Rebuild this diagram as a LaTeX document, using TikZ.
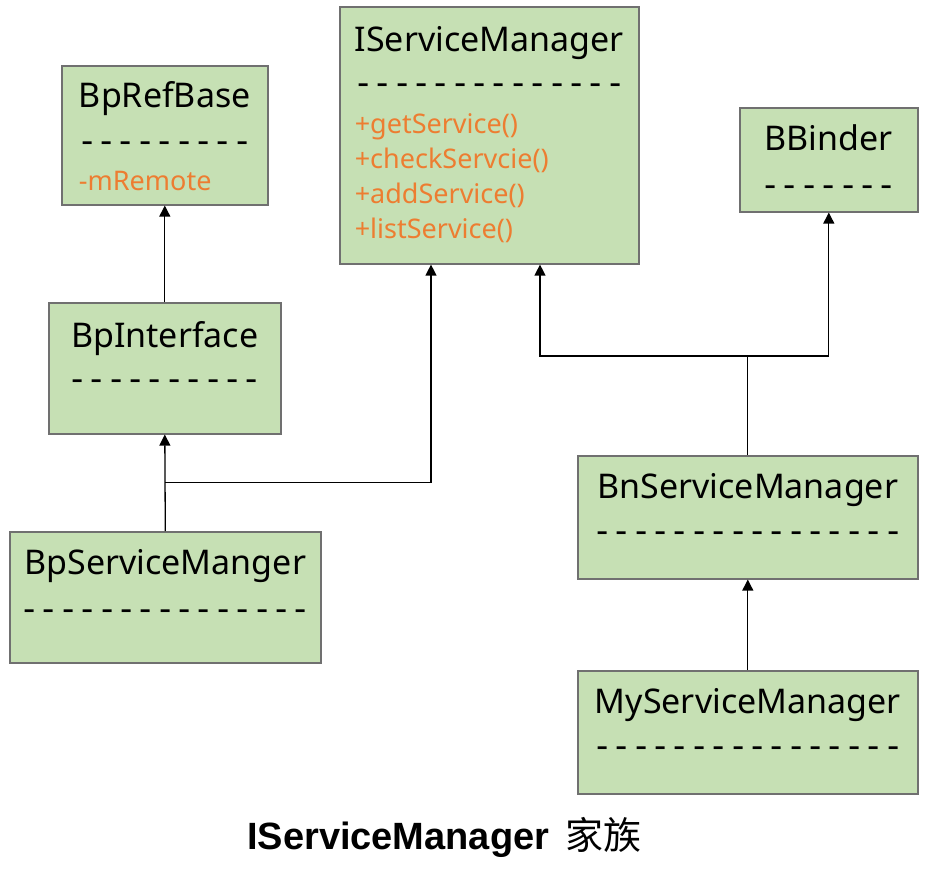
\documentclass[tikz,border=0pt]{standalone}
\usepackage{fontspec}
\setmainfont{Noto Sans}
\newfontfamily\capfont{Liberation Sans}
\newfontfamily\cjkfont{Noto Sans CJK SC}
\newfontfamily\dashfont{DejaVu Sans}
\usepackage{tikz}
\usetikzlibrary{calc, positioning, arrows.meta}
\definecolor{boxFill}{RGB}{198, 224, 180}
\definecolor{boxLine}{RGB}{112, 112, 112}
\definecolor{member}{RGB}{237, 125, 49}

% a row of n hyphens
\newcommand{\dashrow}[1]{-\foreach \d in {2,...,#1}{\hspace{7.1pt}-}}

\tikzset{
  classbox/.style={draw=boxLine, line width=1.6pt, fill=boxFill, anchor=north west, inner sep=0pt},
  classname/.style={anchor=base, inner sep=0pt, font=\fontsize{34}{40}\selectfont},
  dashline/.style={anchor=base, inner sep=0pt, font=\dashfont\fontsize{34}{40}\selectfont},
  members/.style={anchor=base west, inner sep=0pt, align=left, text=member, font=\fontsize{27}{35}\selectfont},
  inherit/.style={line width=1.3pt, -{Triangle[length=11pt, width=11pt]}},
  joint/.style={line width=1.3pt},
}

\begin{document}
\begin{tikzpicture}[x=1pt, y=-1pt]
  \useasboundingbox (0,0) rectangle (926,880);

  % --- BpRefBase ---
  \node[classbox, minimum width=206pt, minimum height=139pt] (rb) at (61,65) {};
  \node[classname] (rbT) at ([yshift=-43pt]rb.north) {BpRefBase};
  \node[dashline] (rbD) at ([yshift=-45pt]rbT.base) {\dashrow{9}};
  \node[members] (rbM) at ([yshift=-82pt]rbT.base west) {-mRemote};

  % --- IServiceManager ---
  \node[classbox, minimum width=299pt, minimum height=257pt] (ism) at (339,6) {};
  \node[classname] (ismT) at ([yshift=-46pt]ism.north) {IServiceManager};
  \node[dashline] (ismD) at ([yshift=-43pt]ismT.base) {\dashrow{14}};
  \node[members] (ismM) at ([yshift=-186pt]ismT.base west)
    {+getService()\\+checkServcie()\\+addService()\\+listService()};

  % --- BBinder ---
  \node[classbox, minimum width=178pt, minimum height=104pt] (bb) at (739,107) {};
  \node[classname] (bbT) at ([yshift=-43pt]bb.north) {BBinder};
  \node[dashline] (bbD) at ([yshift=-46pt]bbT.base) {\dashrow{7}};

  % --- BpInterface ---
  \node[classbox, minimum width=232pt, minimum height=131pt] (bpi) at (48,302) {};
  \node[classname] (bpiT) at ([yshift=-45pt]bpi.north) {BpInterface};
  \node[dashline] (bpiD) at ([yshift=-43pt]bpiT.base) {\dashrow{10}};

  % --- BnServiceManager ---
  \node[classbox, minimum width=340pt, minimum height=123pt] (bns) at (577,455) {};
  \node[classname] (bnsT) at ([yshift=-43pt]bns.north) {BnServiceManager};
  \node[dashline] (bnsD) at ([yshift=-44pt]bnsT.base) {\dashrow{16}};

  % --- BpServiceManger ---
  \node[classbox, minimum width=311pt, minimum height=131pt] (bps) at (9,531) {};
  \node[classname] (bpsT) at ([yshift=-43pt]bps.north) {BpServiceManger};
  \node[dashline] (bpsD) at ([yshift=-46pt]bpsT.base) {\dashrow{15}};

  % --- MyServiceManager ---
  \node[classbox, minimum width=340pt, minimum height=123pt] (msm) at (577,670) {};
  \node[classname] (msmT) at ([yshift=-43pt]msm.north) {MyServiceManager};
  \node[dashline] (msmD) at ([yshift=-44pt]msmT.base) {\dashrow{16}};

  % --- inheritance ---
  \draw[inherit] (bpi.north) -- (rb.south);
  \draw[inherit] (bps.north) -- (bpi.south);
  \coordinate (bpJoin) at ($(bps.north)!0.5!(bpi.south)$);
  \draw[inherit] (bpJoin) -| ([xshift=92pt]ism.south west);

  \coordinate (bnJoin) at ($(bns.north)+(0,-99)$);
  \draw[joint] (bns.north) -- (bnJoin);
  \draw[inherit] (bnJoin) -| ([xshift=201pt]ism.south west);
  \draw[inherit] (bnJoin) -| (bb.south);
  \draw[inherit] (msm.north) -- (bns.south);

  % caption
  \node[anchor=base west, inner sep=0pt, font=\capfont\bfseries\fontsize{38}{40}\selectfont] (caption) at (247,849)
    {IServiceManager\hspace{16pt}{\cjkfont\mdseries 家族}};
\end{tikzpicture}
\end{document}
